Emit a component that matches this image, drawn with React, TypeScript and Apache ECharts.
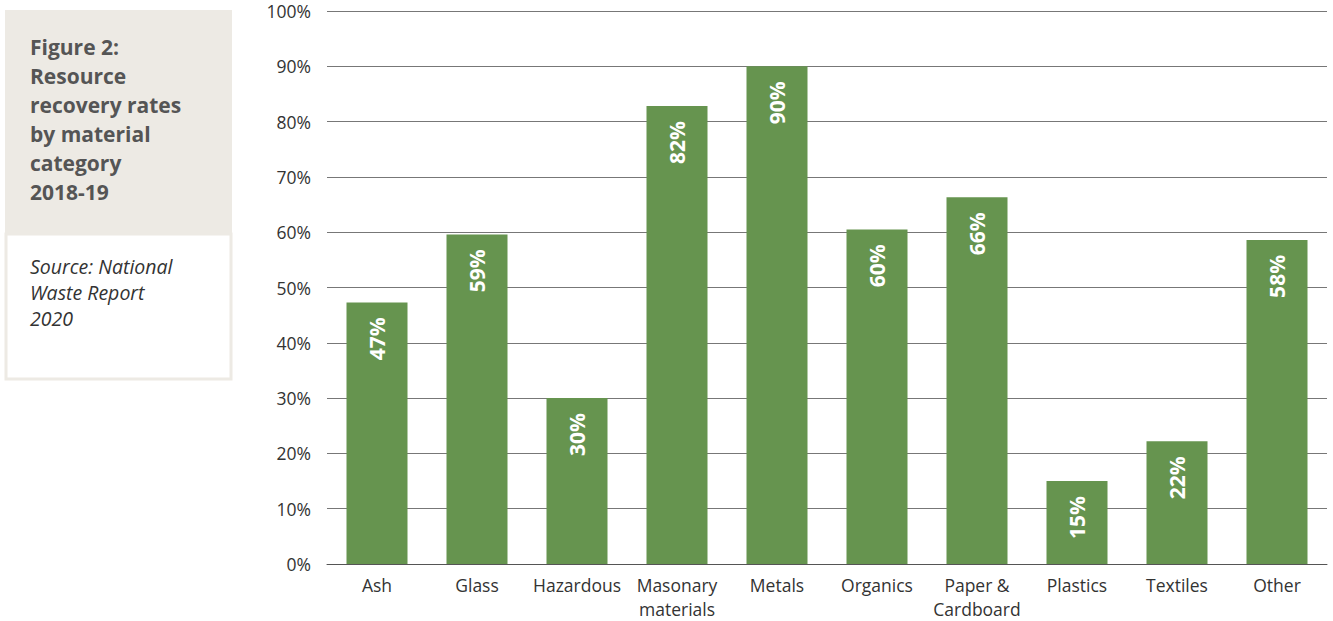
import React, { useEffect, useRef } from "react";
import * as echarts from "echarts";

const categories = [
  "Ash",
  "Glass",
  "Hazardous",
  "Masonary\nmaterials",
  "Metals",
  "Organics",
  "Paper &\nCardboard",
  "Plastics",
  "Textiles",
  "Other",
];
const recoveryRates = [47.3, 59.6, 30, 82.8, 90, 60.5, 66.3, 15, 22.2, 58.6];
const rateLabels = ["47%", "59%", "30%", "82%", "90%", "60%", "66%", "15%", "22%", "58%"];
const titleLines = ["Figure 2:", "Resource", "recovery rates", "by material", "category", "2018-19"];
const sourceLines = ["Source: National", "Waste Report", "2020"];

const FONT = "'Open Sans', Lato, sans-serif";

export default function App() {
  const ref = useRef<HTMLDivElement>(null);
  useEffect(() => {
    document.body.style.margin = "0";
    const chart = echarts.init(ref.current!, null, { renderer: "svg" });
    chart.setOption({
      animation: false,
      textStyle: { fontFamily: FONT },
      grid: { left: 327, right: 6, top: 11, bottom: 55, containLabel: false },
      xAxis: {
        type: "category",
        data: categories,
        axisTick: { show: false },
        axisLine: { lineStyle: { color: "#555", width: 1 } },
        axisLabel: { color: "#333", fontSize: 17.5, margin: 9, lineHeight: 24, fontFamily: FONT, interval: 0 },
      },
      yAxis: {
        type: "value",
        min: 0,
        max: 100,
        interval: 10,
        axisLabel: {
          formatter: "{value}%",
          color: "#333",
          fontSize: 17.5,
          lineHeight: 18,
          margin: 16,
          fontFamily: FONT,
        },
        splitLine: { lineStyle: { color: "#777", width: 1 } },
        axisLine: { show: false },
        axisTick: { show: false },
      },
      series: [
        {
          type: "bar",
          data: recoveryRates,
          barWidth: 61,
          itemStyle: { color: "#66944f" },
          label: {
            show: true,
            position: "insideTop",
            rotate: 90,
            align: "right",
            verticalAlign: "middle",
            distance: 15,
            color: "#fff",
            fontSize: 21,
            fontWeight: "bold",
            fontFamily: FONT,
            formatter: (p: any) => rateLabels[p.dataIndex],
          },
        },
      ],
      graphic: [
        { type: "rect", shape: { x: 5, y: 10, width: 227, height: 224 }, style: { fill: "#edeae4" } },
        {
          type: "rect",
          shape: { x: 6, y: 234, width: 225, height: 145 },
          style: { fill: "#fff", stroke: "#edeae4", lineWidth: 3 },
        },
        {
          type: "text",
          x: 30,
          y: 32,
          style: {
            text: titleLines.join("\n"),
            fill: "#555",
            font: `bold 21px ${FONT}`,
            lineHeight: 29,
          },
        },
        {
          type: "text",
          x: 30,
          y: 253,
          style: {
            text: sourceLines.join("\n"),
            fill: "#333",
            font: `italic 19.5px ${FONT}`,
            lineHeight: 26,
          },
        },
      ],
    });
    return () => chart.dispose();
  }, []);
  return <div ref={ref} style={{ width: 1333, height: 621 }} />;
}
